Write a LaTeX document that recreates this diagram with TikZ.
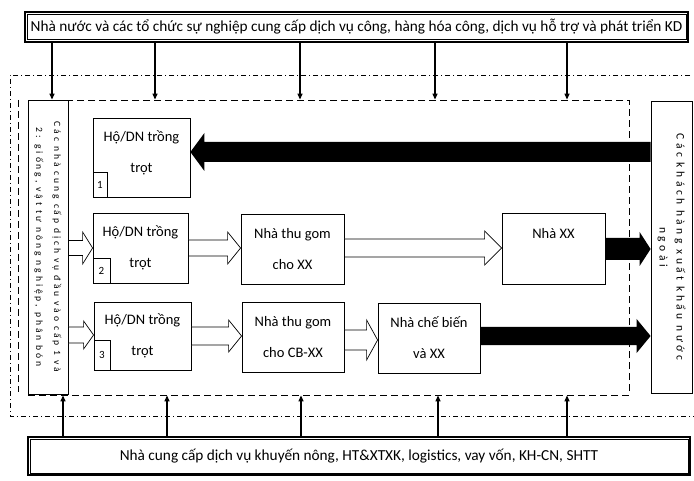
\documentclass[tikz,border=0pt]{standalone}
\usepackage{fontspec}
\setmainfont{Carlito}
\newfontfamily\spaced[LetterSpace=30]{Carlito}
\usepackage{tikz}
\usetikzlibrary{positioning,arrows.meta,calc}

% wide arrow drawn as a polygon: style, from, to, half shaft, half head, head length
\newcommand{\blockarrow}[6]{%
  \path[#1] let \p1=(#2), \p2=(#3), \p3=($(#3)!#6!(#2)$) in
    (\x1,\y1+#4) -- (\x3,\y1+#4) -- (\x3,\y1+#5) -- (\x2,\y2)
    -- (\x3,\y1-#5) -- (\x3,\y1-#4) -- (\x1,\y1-#4) -- cycle;}

\begin{document}
\begin{tikzpicture}[x=1pt,y=-1pt,>={Triangle[length=6pt,width=5pt]},
  box/.style ={draw,line width=0.8pt,align=center,inner sep=2pt,font=\fontsize{14.5}{31}\selectfont},
  num/.style ={draw,line width=0.8pt,anchor=south west,inner sep=1pt,font=\fontsize{11}{12}\selectfont},
  band/.style={draw,line width=1.6pt,font=\fontsize{15.3}{17}\selectfont},
  inner/.style={line width=0.6pt},
  side/.style={draw,line width=0.8pt,align=center,rotate=-90,inner sep=1pt,fill=white},
  core/.style={draw,line width=0.8pt,dash pattern=on 7pt off 4pt},
  frame/.style={line width=0.7pt,dash pattern=on 5pt off 3pt on 1pt off 3pt},
  hollow/.style={draw,line width=0.7pt,fill=white},
  heavy/.style={fill=black},
  flow/.style={->,line width=1.2pt}]

\useasboundingbox (0,0) rectangle (694,481);

\draw[frame] (690,75) -- (10,75) -- (10,416) -- (694,416);
\node[core,minimum width=601pt,minimum height=295pt] (core) at (328.5,247.5) {};
\draw[core] (18,100) -- (18,392);

\node[band,minimum width=663pt,minimum height=30pt] (top) at (356.5,27) {Nhà nước và các tổ chức sự nghiệp cung cấp dịch vụ công, hàng hóa công, dịch vụ hỗ trợ và phát triển KD};
\node[band,minimum width=662pt,minimum height=38pt] (bot) at (359,456) {Nhà cung cấp dịch vụ khuyến nông, HT\&XTXK, logistics, vay vốn, KH-CN, SHTT};
\draw[inner] ($(top.north west)+(3,3)$) rectangle ($(top.south east)+(-3,-3)$);
\draw[inner] ($(bot.north west)+(3,3)$) rectangle ($(bot.south east)+(-3,-3)$);

% rotated: north is the right side, south the left side
\node[side,minimum width=294pt,minimum height=40pt,font=\spaced\fontsize{9.6}{18}\selectfont] (inp) at (48,247) {Các nhà cung cấp dịch vụ đầu vào cấp 1 và\\2: giống, vật tư nông nghiệp, phân bón};
\node[side,minimum width=292pt,minimum height=41pt,font=\spaced\fontsize{11.5}{17}\selectfont] (cus) at (671.5,247) {Các khách hàng xuất khẩu nước\\ngoài};

\node[box,minimum width=97pt,minimum height=79pt]  (b1)  at (141.5,157.5) {Hộ/DN trồng\\trọt\\[-19pt]\mbox{}};
\node[box,minimum width=95pt,minimum height=70pt]  (b2)  at (140.5,248) {Hộ/DN trồng\\trọt};
\node[box,minimum width=97pt,minimum height=68pt]  (b3)  at (142.5,336) {Hộ/DN trồng\\trọt};
\node[box,minimum width=103pt,minimum height=70pt] (tg1) at (292.5,249) {Nhà thu gom\\cho XX};
\node[box,minimum width=102pt,minimum height=70pt] (tg2) at (293,337) {Nhà thu gom\\cho CB-XX};
\node[box,minimum width=103pt,minimum height=71pt] (xx)  at (553.5,248.5) {Nhà XX\\\mbox{}};
\node[box,minimum width=102pt,minimum height=70pt] (cb)  at (429,338) {Nhà chế biến\\và XX};

\node[num,minimum width=14pt,minimum height=25pt] (n1) at (b1.south west) {1};
\node[num,minimum width=17pt,minimum height=25pt] (n2) at (b2.south west) {2};
\node[num,minimum width=16pt,minimum height=30pt] (n3) at (b3.south west) {3};

\blockarrow{heavy}{cus.south |- 0,152}{b1.east |- 0,152}{10pt}{19pt}{14pt}
\blockarrow{hollow}{inp.north |- 0,248}{b2.west |- 0,248}{7.5pt}{16pt}{10pt}
\blockarrow{hollow}{b2.east |- 0,248}{tg1.west |- 0,248}{8pt}{16pt}{13pt}
\blockarrow{hollow}{tg1.east |- 0,248}{xx.west |- 0,248}{9pt}{17pt}{17pt}
\blockarrow{heavy}{xx.east |- 0,249}{cus.south |- 0,249}{11pt}{17pt}{11pt}
\blockarrow{hollow}{inp.north |- 0,335}{b3.west |- 0,335}{8pt}{14pt}{10pt}
\blockarrow{hollow}{b3.east |- 0,336}{tg2.west |- 0,336}{9pt}{16pt}{13pt}
\blockarrow{hollow}{tg2.east |- 0,340}{cb.west |- 0,340}{10pt}{20pt}{11pt}
\blockarrow{heavy}{cb.east |- 0,336}{cus.south |- 0,336}{9pt}{17pt}{14pt}

\foreach \x in {52,155,300,435,567}
  \draw[flow] (top.south -| \x,0) -- (core.north -| \x,0);
\foreach \x in {63,167,301,438,567}
  \draw[flow] (bot.north -| \x,0) -- (core.south -| \x,0);
\end{tikzpicture}
\end{document}
